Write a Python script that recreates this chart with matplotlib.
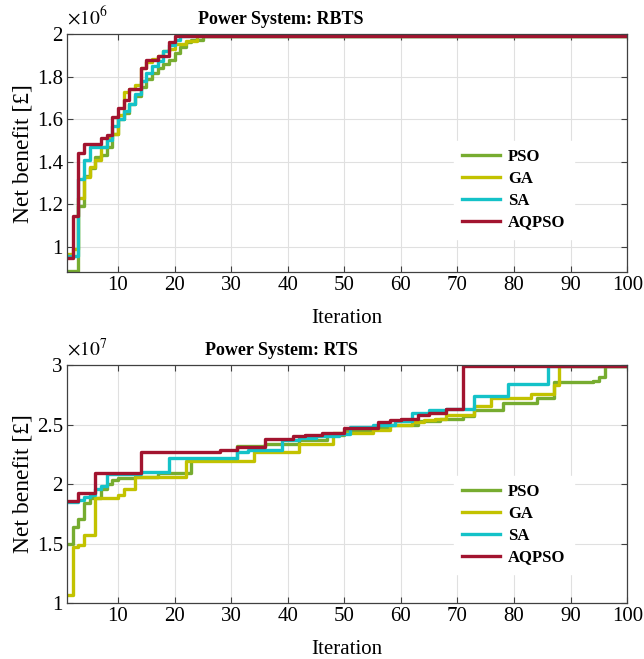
import matplotlib
matplotlib.use('Agg')
import matplotlib.pyplot as plt
from matplotlib.ticker import FuncFormatter, MultipleLocator

plt.rcParams['font.family'] = ['Liberation Serif', 'DejaVu Serif']
plt.rcParams['mathtext.fontset'] = 'stix'

# algorithm names (legend order) and colours
algos = ['PSO', 'GA', 'SA', 'AQPSO']
colors = {'PSO': '#77AC30', 'GA': '#C2C200', 'SA': '#14C2C8', 'AQPSO': '#A2142F'}
last_iter = 100

# RBTS: iteration where the best value changes, and the new value (x1e6 GBP)
rbts_iter = {
    'PSO':   [1, 3, 4, 5, 6, 7, 8, 9, 10, 11, 12, 13, 14, 15, 16, 17, 18, 19, 20, 21, 22, 23, 25],
    'GA':    [1, 2, 3, 4, 5, 6, 7, 8, 9, 10, 11, 12, 13, 14, 15, 16, 17, 18, 19, 20, 22, 24],
    'SA':    [1, 3, 4, 5, 8, 9, 10, 11, 12, 13, 14, 15, 16, 17, 18, 19, 20, 21],
    'AQPSO': [1, 2, 3, 4, 7, 8, 9, 10, 11, 12, 14, 15, 17, 19, 20],
}
rbts_val = {
    'PSO':   [0.885, 1.19, 1.335, 1.37, 1.42, 1.43, 1.47, 1.53, 1.60, 1.63, 1.67, 1.71, 1.75,
              1.79, 1.82, 1.84, 1.86, 1.88, 1.91, 1.94, 1.965, 1.975, 1.992],
    'GA':    [0.965, 0.99, 1.23, 1.33, 1.375, 1.41, 1.47, 1.51, 1.53, 1.62, 1.73, 1.74, 1.76,
              1.84, 1.87, 1.885, 1.90, 1.92, 1.93, 1.955, 1.97, 1.992],
    'SA':    [0.955, 1.32, 1.41, 1.47, 1.50, 1.57, 1.60, 1.64, 1.67, 1.72, 1.78, 1.82, 1.85,
              1.875, 1.92, 1.95, 1.975, 1.992],
    'AQPSO': [0.945, 1.145, 1.44, 1.485, 1.51, 1.525, 1.61, 1.655, 1.69, 1.74, 1.84, 1.88,
              1.90, 1.965, 1.992],
}

# RTS: same idea (x1e7 GBP)
rts_iter = {
    'PSO':   [1, 2, 3, 4, 5, 7, 8, 9, 10, 13, 17, 23, 31, 36, 42, 47, 50, 55, 58, 63, 67, 71,
              73, 78, 84, 87, 94, 95, 96],
    'GA':    [1, 2, 3, 4, 6, 10, 11, 13, 22, 34, 42, 48, 55, 58, 62, 64, 66, 68, 73, 76, 83,
              87, 88],
    'SA':    [1, 3, 4, 5, 6, 7, 8, 14, 19, 31, 33, 39, 42, 45, 49, 51, 55, 59, 62, 65, 68, 73,
              79, 86],
    'AQPSO': [1, 3, 6, 14, 28, 31, 36, 41, 43, 46, 50, 56, 58, 60, 63, 65, 68, 71],
}
rts_val = {
    'PSO':   [1.50, 1.64, 1.71, 1.84, 1.88, 1.96, 2.00, 2.03, 2.05, 2.06, 2.09, 2.21, 2.32,
              2.34, 2.37, 2.41, 2.45, 2.48, 2.50, 2.53, 2.55, 2.57, 2.62, 2.68, 2.72, 2.86,
              2.87, 2.90, 2.99],
    'GA':    [1.067, 1.47, 1.49, 1.57, 1.88, 1.91, 1.96, 2.055, 2.19, 2.27, 2.34, 2.43, 2.455,
              2.495, 2.52, 2.54, 2.55, 2.58, 2.66, 2.72, 2.76, 2.83, 2.99],
    'SA':    [1.85, 1.865, 1.89, 1.91, 1.96, 1.98, 2.085, 2.10, 2.22, 2.27, 2.29, 2.37, 2.39,
              2.40, 2.42, 2.48, 2.50, 2.53, 2.595, 2.62, 2.63, 2.74, 2.84, 2.99],
    'AQPSO': [1.857, 1.927, 2.095, 2.27, 2.29, 2.315, 2.38, 2.40, 2.41, 2.43, 2.47, 2.52,
              2.535, 2.55, 2.58, 2.60, 2.63, 2.99],
}

panels = [
    ('Power System: RBTS', rbts_iter, rbts_val, 1e6, 6, (0.88, 2.0), 0.2, 0.105),
    ('Power System: RTS', rts_iter, rts_val, 1e7, 7, (1.0, 3.0), 0.5, 0.088),
]

fig = plt.figure(figsize=(6.44, 6.59), dpi=100)
rects = [[0.104, 0.587, 0.870, 0.361], [0.104, 0.085, 0.870, 0.361]]

for rect, (title, iters, vals, scale, expo, ylim, ystep, leg_y) in zip(rects, panels):
    ax = fig.add_axes(rect)
    for name in algos:
        x = iters[name] + [last_iter]
        y = [v * scale for v in vals[name]]
        y = y + [y[-1]]
        ax.step(x, y, where='post', color=colors[name], lw=2.4, label=name)

    ax.set_xlim(1, 100)
    ax.set_ylim(ylim[0] * scale, ylim[1] * scale)
    ax.xaxis.set_major_locator(MultipleLocator(10))
    ax.yaxis.set_major_locator(MultipleLocator(ystep * scale))
    ax.yaxis.set_major_formatter(FuncFormatter(lambda v, p, s=scale: f'{v / s:g}'))
    ax.grid(True, color='#e0e0e0', lw=0.8)
    ax.tick_params(direction='in', top=True, right=True, labelsize=15, length=4,
                   color='#404040', pad=3)
    for sp in ax.spines.values():
        sp.set_color('#404040')
        sp.set_linewidth(0.9)

    ax.text(0.382, 1.025, title, transform=ax.transAxes, fontsize=13,
            fontweight='bold', ha='center', va='bottom')
    ax.set_xlabel('Iteration', fontsize=15, labelpad=10)
    ax.set_ylabel('Net benefit [£]', fontsize=17, labelpad=2)
    ax.text(0.0, 1.025, r'$\times 10^{%d}$' % expo, transform=ax.transAxes,
            fontsize=14, ha='left', va='bottom')

    leg = ax.legend(loc='lower left', bbox_to_anchor=(0.676, leg_y), fontsize=12,
                    handlelength=2.25, handletextpad=0.5, labelspacing=0.35,
                    borderpad=0.5, fancybox=False, framealpha=1)
    leg.get_frame().set_edgecolor('white')
    for t in leg.get_texts():
        t.set_fontweight('bold')

fig.savefig('out.png', dpi=100)
